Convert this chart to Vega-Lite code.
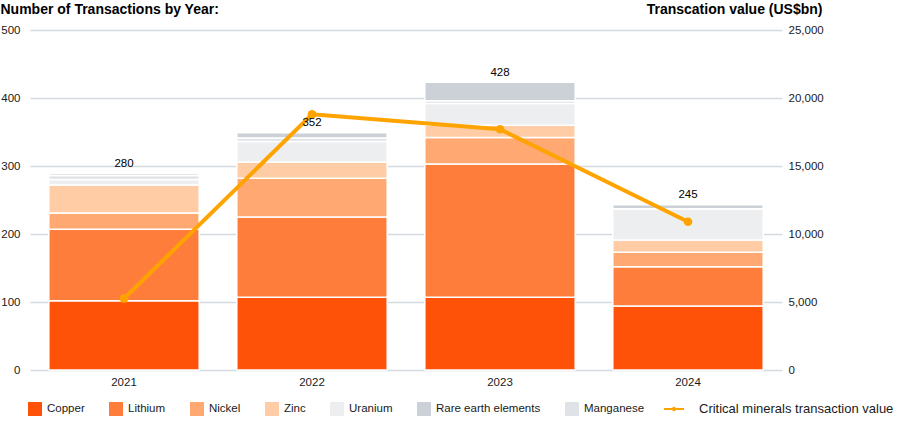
{
  "$schema": "https://vega.github.io/schema/vega-lite/v6.json",
  "autosize": "none",
  "width": 752,
  "height": 340,
  "padding": {"left": 30, "top": 30, "right": 118, "bottom": 52},
  "background": "white",
  "config": {
    "font": "Liberation Sans",
    "view": {"stroke": null},
    "axis": {"domain": false, "ticks": false, "labelFontSize": 11.5, "labelColor": "#1a1a1a", "titleColor": "#000000"}
  },
  "datasets": {
    "bars": [
      {"year": "2021", "mineral": "Copper", "count": 102},
      {"year": "2021", "mineral": "Lithium", "count": 105},
      {"year": "2021", "mineral": "Nickel", "count": 24},
      {"year": "2021", "mineral": "Zinc", "count": 41},
      {"year": "2021", "mineral": "Uranium", "count": 8},
      {"year": "2021", "mineral": "Manganese", "count": 6},
      {"year": "2021", "mineral": "Rare earth elements", "count": 3},
      {"year": "2022", "mineral": "Copper", "count": 107},
      {"year": "2022", "mineral": "Lithium", "count": 118},
      {"year": "2022", "mineral": "Nickel", "count": 57},
      {"year": "2022", "mineral": "Zinc", "count": 24},
      {"year": "2022", "mineral": "Uranium", "count": 30},
      {"year": "2022", "mineral": "Manganese", "count": 5},
      {"year": "2022", "mineral": "Rare earth elements", "count": 8},
      {"year": "2023", "mineral": "Copper", "count": 107},
      {"year": "2023", "mineral": "Lithium", "count": 196},
      {"year": "2023", "mineral": "Nickel", "count": 39},
      {"year": "2023", "mineral": "Zinc", "count": 18},
      {"year": "2023", "mineral": "Uranium", "count": 32},
      {"year": "2023", "mineral": "Manganese", "count": 4},
      {"year": "2023", "mineral": "Rare earth elements", "count": 27},
      {"year": "2024", "mineral": "Copper", "count": 94},
      {"year": "2024", "mineral": "Lithium", "count": 58},
      {"year": "2024", "mineral": "Nickel", "count": 21},
      {"year": "2024", "mineral": "Zinc", "count": 18},
      {"year": "2024", "mineral": "Uranium", "count": 46},
      {"year": "2024", "mineral": "Manganese", "count": 0},
      {"year": "2024", "mineral": "Rare earth elements", "count": 6}
    ],
    "labels": [
      {"year": "2021", "label": "280"},
      {"year": "2022", "label": "352"},
      {"year": "2023", "label": "428"},
      {"year": "2024", "label": "245"}
    ],
    "value": [
      {"year": "2021", "value": 5250},
      {"year": "2022", "value": 18800},
      {"year": "2023", "value": 17700},
      {"year": "2024", "value": 10900}
    ]
  },
  "resolve": {"scale": {"y": "independent"}},
  "layer": [
    {
      "data": {"name": "bars"},
      "transform": [
        {"calculate": "indexof(['Copper','Lithium','Nickel','Zinc','Uranium','Manganese','Rare earth elements'], datum.mineral)", "as": "stackOrder"}
      ],
      "mark": {"type": "bar", "stroke": "white", "strokeWidth": 1.5},
      "encoding": {
        "x": {
          "field": "year", "type": "ordinal",
          "scale": {"paddingInner": 0.2, "paddingOuter": 0.1},
          "axis": {"title": null, "labelAngle": 0, "labelPadding": 6}
        },
        "y": {
          "field": "count", "type": "quantitative", "stack": "zero",
          "scale": {"domain": [0, 500]},
          "axis": {
            "orient": "left", "values": [0, 100, 200, 300, 400, 500],
            "grid": true, "gridColor": "#D5DAE0", "gridWidth": 1.5,
            "labelPadding": 10,
            "title": "Number of Transactions by Year:",
            "titleAngle": 0, "titleAlign": "left", "titleBaseline": "alphabetic",
            "titleX": -30, "titleY": -16.5, "titleFontSize": 14, "titleFontWeight": "bold"
          }
        },
        "color": {
          "field": "mineral", "type": "nominal",
          "scale": {
            "domain": ["Copper", "Lithium", "Nickel", "Zinc", "Uranium", "Rare earth elements", "Manganese"],
            "range": ["#FE5209", "#FF7D3B", "#FFA872", "#FFCCA6", "#EDEEF0", "#CBD1D6", "#DFE3E7"]
          },
          "legend": {
            "orient": "none", "legendX": -2, "legendY": 372, "direction": "horizontal",
            "title": null, "symbolType": "square", "symbolSize": 196, "symbolStrokeWidth": 0,
            "labelFontSize": 11.5, "labelOffset": 5, "columnPadding": 24, "padding": 0,
            "labelColor": "#1a1a1a", "labelLimit": 300
          }
        },
        "order": {"field": "stackOrder", "type": "quantitative"}
      }
    },
    {
      "data": {"name": "value"},
      "encoding": {
        "x": {"field": "year", "type": "ordinal"},
        "y": {
          "field": "value", "type": "quantitative",
          "scale": {"domain": [0, 25000]},
          "axis": {
            "orient": "right", "values": [0, 5000, 10000, 15000, 20000, 25000], "format": ",.0f",
            "grid": false, "labelPadding": 6,
            "title": "Transcation value (US$bn)",
            "titleAngle": 0, "titleAlign": "right", "titleBaseline": "alphabetic",
            "titleX": 40, "titleY": -16.5, "titleFontSize": 14, "titleFontWeight": "bold"
          }
        }
      },
      "layer": [
        {
          "mark": {"type": "line", "strokeWidth": 4},
          "encoding": {
            "stroke": {
              "datum": "Critical minerals transaction value", "type": "nominal",
              "scale": {"range": ["#FFA300"]},
              "legend": {
                "orient": "none", "legendX": 633, "legendY": 368, "title": null,
                "symbolType": "M-1,0H1M0.12,0A0.12,0.12 0 1,1 -0.12,0A0.12,0.12 0 1,1 0.12,0Z",
                "symbolSize": 400, "symbolStrokeWidth": 2, "symbolFillColor": "#FFA300",
                "labelFontSize": 13, "labelOffset": 14, "padding": 0, "labelColor": "#1a1a1a",
                "labelLimit": 300
              }
            }
          }
        },
        {
          "mark": {"type": "point", "filled": true, "size": 75, "color": "#FFA300", "opacity": 1},
          "encoding": {}
        }
      ]
    },
    {
      "data": {"name": "bars"},
      "transform": [
        {"aggregate": [{"op": "sum", "field": "count", "as": "top"}], "groupby": ["year"]},
        {"lookup": "year", "from": {"data": {"name": "labels"}, "key": "year", "fields": ["label"]}}
      ],
      "mark": {"type": "text", "dy": -9.5, "fontSize": 11.5, "color": "#000000", "baseline": "middle"},
      "encoding": {
        "x": {"field": "year", "type": "ordinal"},
        "y": {"field": "top", "type": "quantitative", "scale": {"domain": [0, 500]}, "axis": null},
        "text": {"field": "label"}
      }
    }
  ]
}
